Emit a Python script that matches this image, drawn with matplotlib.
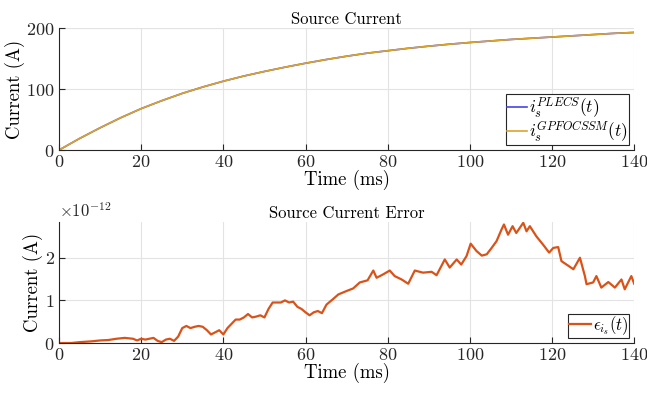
import matplotlib
matplotlib.use('Agg')
import matplotlib.pyplot as plt

plt.rcParams['font.family'] = 'serif'
plt.rcParams['font.serif'] = ['cmr10']
plt.rcParams['mathtext.fontset'] = 'cm'
plt.rcParams['axes.formatter.use_mathtext'] = True

# ---------------- data
t_cur = [0, 5, 10, 15, 20, 25, 30, 35, 40, 45, 50, 55, 60, 65, 70,
         75, 80, 85, 90, 95, 100, 105, 110, 115, 120, 125, 130, 135, 140]
i_plecs = [0, 19, 36.5, 53, 68, 81, 93, 103.5, 113, 121.5, 129, 136, 142.5,
           148.5, 154, 159, 163, 167, 170.5, 173.7, 176.5, 179, 181.5,
           183.5, 185.5, 187.5, 189.5, 191.5, 193]
i_gpfocssm = [0, 19, 36.5, 53, 68, 81, 93, 103.5, 113, 121.5, 129, 136, 142.5,
              148.5, 154, 159, 163, 167, 170.5, 173.7, 176.5, 179, 181.5,
              183.5, 185.5, 187.5, 189.5, 191.5, 193]

t_err = [0, 3, 5, 8, 10, 12, 14, 16, 18, 19, 20, 21, 22, 23, 24, 25, 26, 27,
         28, 29, 30, 31, 32, 33, 34, 35, 36, 37, 38, 39, 40, 41, 42, 43, 44,
         45, 46, 47, 48, 49, 50, 51, 52, 53, 54, 55, 56, 57, 58, 59, 60, 61,
         62, 63, 64, 65.1, 66.7, 68, 70, 71.6, 73.2, 75.1, 76.5, 77.3, 78.9,
         80.5, 81.7, 83.4, 85, 86.6, 88.6, 90.7, 91.9, 93.9, 95.1, 96.8, 97.9,
         99.2, 100.2, 101.6, 102.9, 104.1, 105.3, 106.5, 107.7, 108.3, 109.3,
         110.4, 111.3, 113, 113.8, 114.6, 116.2, 117.8, 119.3, 120.3, 121.5,
         122.3, 124, 125.2, 126.8, 128, 128.4, 130, 130.8, 132, 133.7, 135.3,
         136.9, 137.7, 139.3, 140]
err_e12 = [0, 0, 0.02, 0.04, 0.06, 0.07, 0.1, 0.12, 0.1, 0.06, 0.1, 0.08, 0.1,
           0.12, 0.05, 0.02, 0.08, 0.1, 0.05, 0.15, 0.35, 0.4, 0.35, 0.38,
           0.4, 0.38, 0.3, 0.2, 0.25, 0.3, 0.2, 0.35, 0.45, 0.55, 0.55, 0.6,
           0.68, 0.6, 0.62, 0.65, 0.6, 0.8, 0.95, 0.95, 0.95, 1.0, 0.95, 0.97,
           0.85, 0.8, 0.72, 0.65, 0.72, 0.75, 0.7, 0.9, 1.03, 1.14, 1.22,
           1.28, 1.42, 1.47, 1.7, 1.53, 1.61, 1.7, 1.57, 1.49, 1.39, 1.7,
           1.65, 1.67, 1.59, 1.96, 1.77, 1.96, 1.84, 2.04, 2.33, 2.16, 2.05,
           2.08, 2.23, 2.39, 2.66, 2.78, 2.54, 2.74, 2.58, 2.82, 2.62, 2.74,
           2.5, 2.31, 2.12, 2.23, 2.25, 1.92, 1.81, 1.73, 2.0, 1.57, 1.38,
           1.42, 1.57, 1.3, 1.43, 1.3, 1.49, 1.26, 1.57, 1.39]

xticks = [0, 20, 40, 60, 80, 100, 120, 140]

fig = plt.figure(figsize=(6.47, 3.97), dpi=100)
ax1 = fig.add_axes([0.0912, 0.622, 0.889, 0.307])
ax2 = fig.add_axes([0.0912, 0.136, 0.889, 0.305])


def style(ax):
    for s in ['top', 'right']:
        ax.spines[s].set_visible(False)
    for s in ['left', 'bottom']:
        ax.spines[s].set_color('#262626')
        ax.spines[s].set_linewidth(0.8)
    ax.tick_params(direction='in', colors='#262626', labelsize=13,
                   length=4, width=0.8, pad=3)
    ax.grid(True, color='#e3e3e3', linewidth=0.8)
    ax.set_axisbelow(True)
    ax.set_xlim(0, 140)
    ax.set_xticks(xticks)
    ax.set_xlabel('Time (ms)', fontsize=13.5, labelpad=0)
    ax.set_ylabel('Current (A)', fontsize=13.5, labelpad=1)


# ---------------- top
ax1.plot(t_cur, i_plecs, color='#4545e6', lw=1.2, label=r'$i_s^{PLECS}(t)$')
ax1.plot(t_cur, i_gpfocssm, color='#dba32a', lw=1.2,
         label=r'$i_s^{GPFOCSSM}(t)$')
style(ax1)
ax1.set_ylim(0, 200)
ax1.set_yticks([0, 100, 200])
ax1.set_title('Source Current', fontsize=12, pad=3)
ax1.axhline(200, color='#e3e3e3', lw=0.8, zorder=0)
leg = ax1.legend(loc='lower right', fontsize=12.5, fancybox=False,
                 edgecolor='#262626', framealpha=1, handlelength=1.2,
                 handletextpad=0.1, borderpad=0.05, labelspacing=0.0,
                 borderaxespad=0.3)
leg.get_frame().set_linewidth(0.8)

# ---------------- bottom
ax2.plot(t_err, err_e12, color='#d95319', lw=1.6, label=r'$\epsilon_{i_s}(t)$')
style(ax2)
ax2.set_ylim(0, 2.84)
ax2.set_yticks([0, 1, 2])
ax2.set_title('Source Current Error', fontsize=12, pad=3)
ax2.text(0, 1.02, r'$\times10^{-12}$', transform=ax2.transAxes,
         fontsize=12, ha='left', va='bottom', color='#262626')
leg2 = ax2.legend(loc='lower right', fontsize=12, fancybox=False,
                  edgecolor='#262626', framealpha=1, handlelength=1.3,
                  handletextpad=0.1, borderpad=0.05, borderaxespad=0.3)
leg2.get_frame().set_linewidth(0.8)

fig.savefig('out.png', dpi=100)
